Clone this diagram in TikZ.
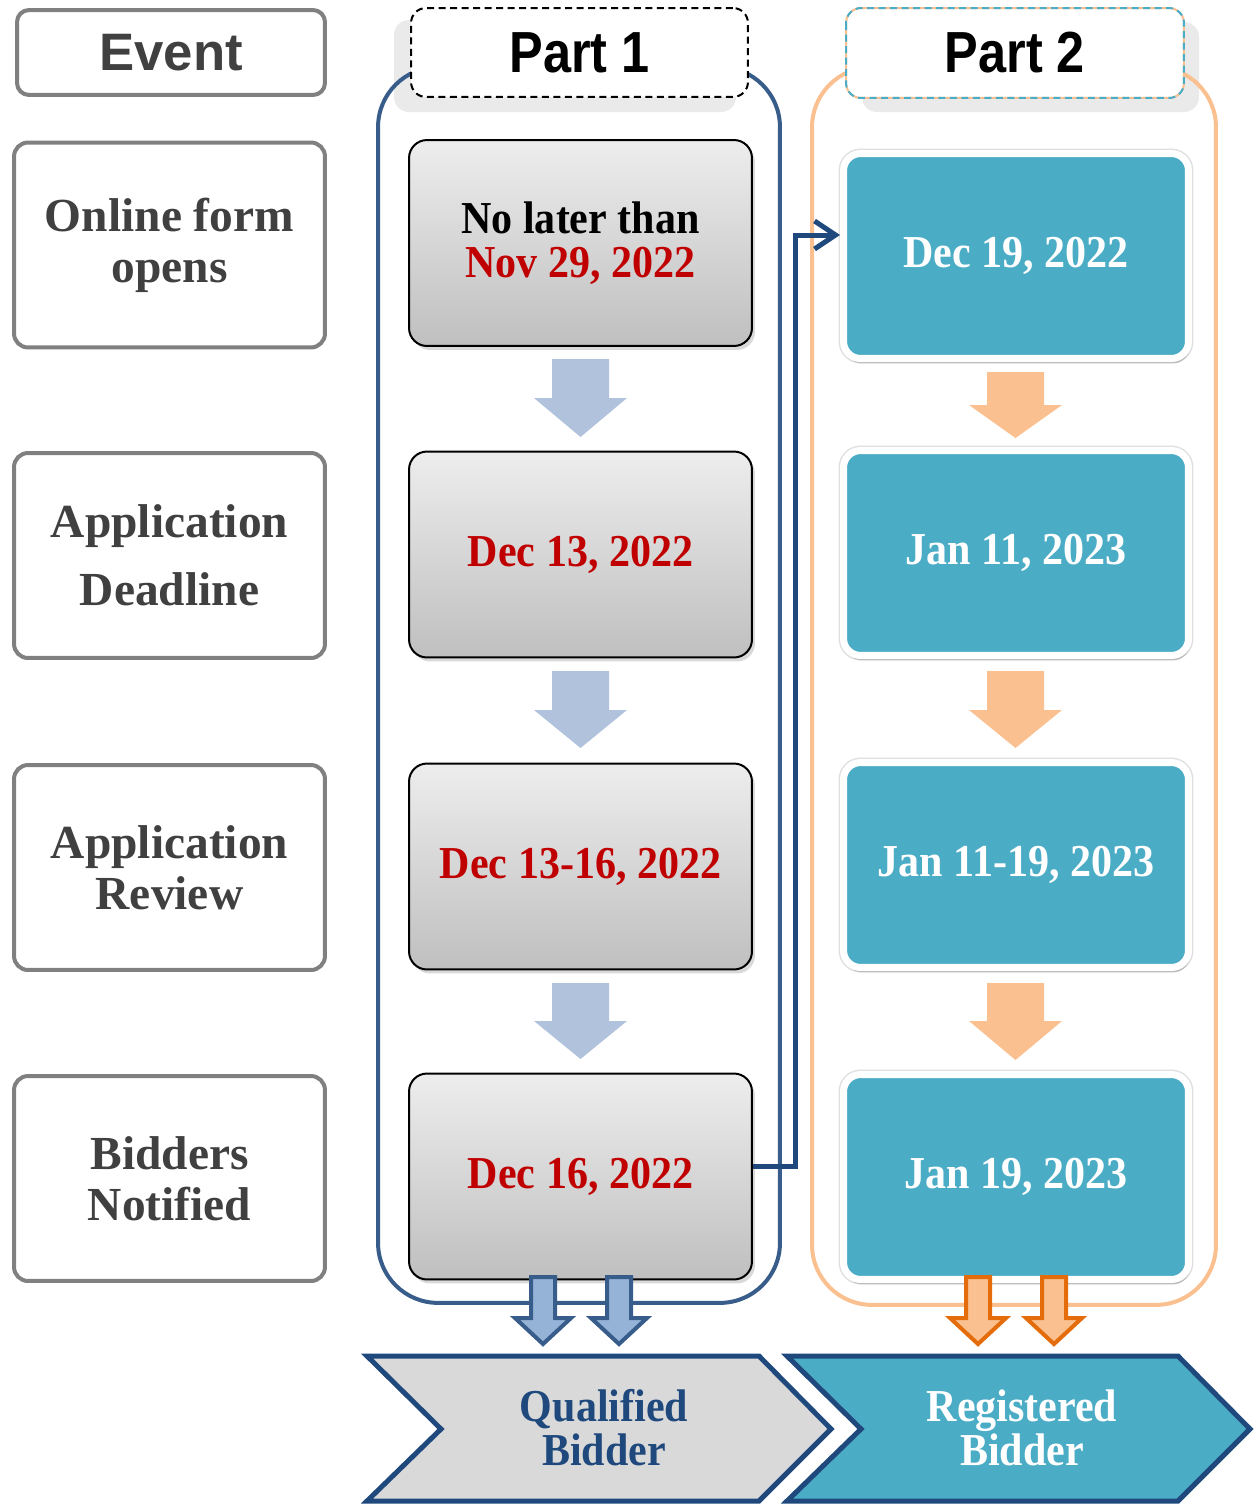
\documentclass[tikz,border=0pt]{standalone}
\usepackage{fontspec}
\setmainfont{Liberation Serif}
\newfontfamily\hdfont[FakeStretch=0.87]{Liberation Sans}
\newfontfamily\evfont{Liberation Sans}
\newfontfamily\dtfont[FakeStretch=0.92]{Liberation Serif}
\usetikzlibrary{shadows,arrows.meta,calc}
\definecolor{cblue}{HTML}{385D8A}
\definecolor{cnavy}{HTML}{1F497D}
\definecolor{cpeach}{HTML}{FAC090}
\definecolor{cteal}{HTML}{4BACC6}
\definecolor{cred}{HTML}{C00000}
\definecolor{ctext}{HTML}{404040}
\definecolor{cgrayline}{HTML}{808080}
\definecolor{clblue}{HTML}{B0C2DC}
\definecolor{cmblue}{HTML}{95B3D7}
\definecolor{corange}{HTML}{E46C0A}
\definecolor{cchev}{HTML}{D9D9D9}
\definecolor{cshade}{HTML}{EAEAEA}
\newcommand\bdown[5]{% x, top, headstart, tip, colour
  \fill[#5] (#1-28.5,#2) -- (#1+28.5,#2) -- (#1+28.5,#3) -- (#1+46.5,#3) -- (#1,#4) -- (#1-46.5,#3) -- (#1-28.5,#3) -- cycle;}
\newcommand\bout[3]{% x, fill, draw
  \filldraw[fill=#2, draw=#3, line width=0.08cm] (#1-12,1277) -- (#1+12,1277) -- (#1+12,1318) -- (#1+28,1318) -- (#1,1344) -- (#1-28,1318) -- (#1-12,1318) -- cycle;}
\begin{document}
\begin{tikzpicture}[x=0.02cm,y=-0.02cm,
  eventbox/.style={draw=cgrayline, line width=0.08cm, rounded corners=0.28cm, fill=white,
    minimum width=6.22cm, minimum height=4.1cm, inner sep=0pt, text=ctext, align=center,
    font=\bfseries\fontsize{27}{29}\selectfont},
  graybox/.style={draw=black, line width=0.04cm, rounded corners=0.36cm,
    top color=gray!14, bottom color=gray!50, minimum width=6.86cm, minimum height=4.12cm,
    inner sep=0pt, align=center, text=cred, font=\dtfont\bfseries\fontsize{26}{25}\selectfont,
    drop shadow={shadow xshift=0.06cm, shadow yshift=-0.08cm, opacity=0.3}},
  tealbox/.style={draw=white, line width=0.14cm, fill=cteal, rounded corners=0.34cm,
    minimum width=6.9cm, minimum height=4.1cm, inner sep=0pt, text=white, align=center,
    font=\dtfont\bfseries\fontsize{26}{25}\selectfont,
    preaction={draw=black!12, line width=0.2cm},
    drop shadow={shadow xshift=0.03cm, shadow yshift=-0.1cm, opacity=0.35}},
  container/.style={line width=0.08cm, rounded corners=1.2cm, inner sep=0pt, outer sep=0pt},
  header/.style={line width=0.04cm, fill=white, rounded corners=0.3cm, minimum width=6.74cm,
    minimum height=1.78cm, inner sep=0pt, outer sep=0pt,
    font=\hdfont\bfseries\fontsize{33}{33}\selectfont},
  chevtext/.style={align=center, font=\dtfont\bfseries\fontsize{26}{25}\selectfont},
  conn/.style={draw=cnavy, line width=0.1cm, -{Straight Barb[length=0.42cm, width=0.56cm]}}
]
\useasboundingbox (0,0) rectangle (1257,1505);

% header shadows
\fill[cshade, rounded corners=0.3cm] (394,20) rectangle (736,112);
\fill[cshade, rounded corners=0.3cm] (862,22) rectangle (1199,112);

% containers
\node[container, draw=cblue, minimum width=8.04cm, minimum height=24.72cm] (p1) at (579,685) {};
\node[container, draw=cpeach, minimum width=8.08cm, minimum height=24.76cm] (p2) at (1014,686) {};

% headers
\node[header, draw=black, dash pattern=on 0.14cm off 0.09cm] (h1) at (579.5,52.5) {Part 1};
\node[header, draw=cpeach, minimum width=6.76cm, minimum height=1.8cm] (h2) at (1015,53) {Part 2};
\draw[cteal, line width=0.04cm, dash pattern=on 0.14cm off 0.09cm, rounded corners=0.3cm]
  (h2.north west) rectangle (h2.south east);

% event column
\node[eventbox, minimum width=6.16cm, minimum height=1.7cm, rounded corners=0.24cm,
  font=\evfont\bfseries\fontsize{30}{30}\selectfont] (ev) at (171,52.5) {\raisebox{-2pt}{Event}};
\node[eventbox] (e1) at (169.5,245) {Online form\\opens};
\node[eventbox] (e2) at (169.5,555.5) {Application\\[9.5pt]Deadline};
\node[eventbox] (e3) at (169.5,867.5) {Application\\Review};
\node[eventbox] (e4) at (169.5,1178.5) {Bidders\\Notified};

% part 1 boxes
\node[graybox] (g1) at (580.5,243) {\textcolor{black}{No later than}\\Nov 29, 2022};
\node[graybox] (g2) at (580.5,554.5) {Dec 13, 2022};
\node[graybox] (g3) at (580.5,866.5) {Dec 13-16, 2022};
\node[graybox] (g4) at (580.5,1176.5) {Dec 16, 2022};

% part 2 boxes
\node[tealbox] (t1) at (1016,256) {Dec 19, 2022};
\node[tealbox] (t2) at (1016,553) {Jan 11, 2023};
\node[tealbox] (t3) at (1016,865) {Jan 11-19, 2023};
\node[tealbox] (t4) at (1016,1177) {Jan 19, 2023};

% block arrows
\bdown{580.5}{359}{398}{437}{clblue}
\bdown{580.5}{671}{710}{748}{clblue}
\bdown{580.5}{983}{1021}{1059}{clblue}
\bdown{1015.5}{372}{405}{438}{cpeach}
\bdown{1015.5}{671}{710}{748}{cpeach}
\bdown{1015.5}{983}{1021}{1060}{cpeach}

% connector
\draw[conn] ([yshift=0.21cm]g4.east) -- ++(43,0) |- ([yshift=0.42cm]t1.west);

% double arrows
\bout{543}{cmblue}{cblue}
\bout{619}{cmblue}{cblue}
\bout{978}{cpeach}{corange}
\bout{1054}{cpeach}{corange}

% chevrons
\filldraw[fill=cchev, draw=cnavy, line width=0.1cm]
  (367,1356) -- (759,1356) -- (831,1429) -- (759,1501) -- (367,1501) -- (441,1429) -- cycle;
\filldraw[fill=cteal, draw=cnavy, line width=0.1cm]
  (787,1356) -- (1178,1356) -- (1250,1429) -- (1178,1501) -- (787,1501) -- (861,1429) -- cycle;
\node[chevtext, text=cnavy] (qb) at (604,1428) {Qualified\\Bidder};
\node[chevtext, text=white] (rb) at (1022,1428) {Registered\\Bidder};
\end{tikzpicture}
\end{document}
